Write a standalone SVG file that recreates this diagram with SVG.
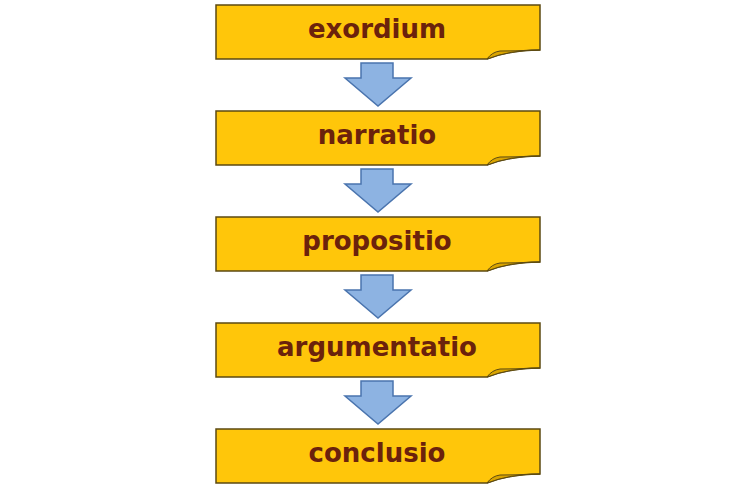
<svg xmlns="http://www.w3.org/2000/svg" width="750" height="494" viewBox="0 0 750 494">
<style>
.box{fill:#FFC60A;stroke:#5C4A12;stroke-width:1.5}
.curl{fill:#D9A400;stroke:#5C4A12;stroke-width:1}
.lbl{font-family:"DejaVu Sans",Verdana,sans-serif;font-weight:bold;font-size:26px;fill:#6B220C;text-anchor:middle}
.arr{fill:#8DB3E2;stroke:#4A74AE;stroke-width:1.5}
</style>
<rect width="750" height="494" fill="#fff"/>
<g id="connectors">
<path class="arr" d="M361,63 H393 V78 H411 L378,106 L345,78 H361 Z"/>
<path class="arr" d="M361,169 H393 V184 H411 L378,212 L345,184 H361 Z"/>
<path class="arr" d="M361,275 H393 V290 H411 L378,318 L345,290 H361 Z"/>
<path class="arr" d="M361,381 H393 V396 H411 L378,424 L345,396 H361 Z"/>
</g>
<g id="n1">
<path class="box" d="M216,5 H540 V50 Q510,50 487,59 H216 Z"/>
<path class="curl" d="M487,59 Q492,52 500,51 Q520,51 540,50 Q510,50 487,59 Z"/>
<text class="lbl" x="377" y="38">exordium</text>
</g>
<g id="n2">
<path class="box" d="M216,111 H540 V156 Q510,156 487,165 H216 Z"/>
<path class="curl" d="M487,165 Q492,158 500,157 Q520,157 540,156 Q510,156 487,165 Z"/>
<text class="lbl" x="377" y="144">narratio</text>
</g>
<g id="n3">
<path class="box" d="M216,217 H540 V262 Q510,262 487,271 H216 Z"/>
<path class="curl" d="M487,271 Q492,264 500,263 Q520,263 540,262 Q510,262 487,271 Z"/>
<text class="lbl" x="377" y="250">propositio</text>
</g>
<g id="n4">
<path class="box" d="M216,323 H540 V368 Q510,368 487,377 H216 Z"/>
<path class="curl" d="M487,377 Q492,370 500,369 Q520,369 540,368 Q510,368 487,377 Z"/>
<text class="lbl" x="377" y="356">argumentatio</text>
</g>
<g id="n5">
<path class="box" d="M216,429 H540 V474 Q510,474 487,483 H216 Z"/>
<path class="curl" d="M487,483 Q492,476 500,475 Q520,475 540,474 Q510,474 487,483 Z"/>
<text class="lbl" x="377" y="462">conclusio</text>
</g>
</svg>
